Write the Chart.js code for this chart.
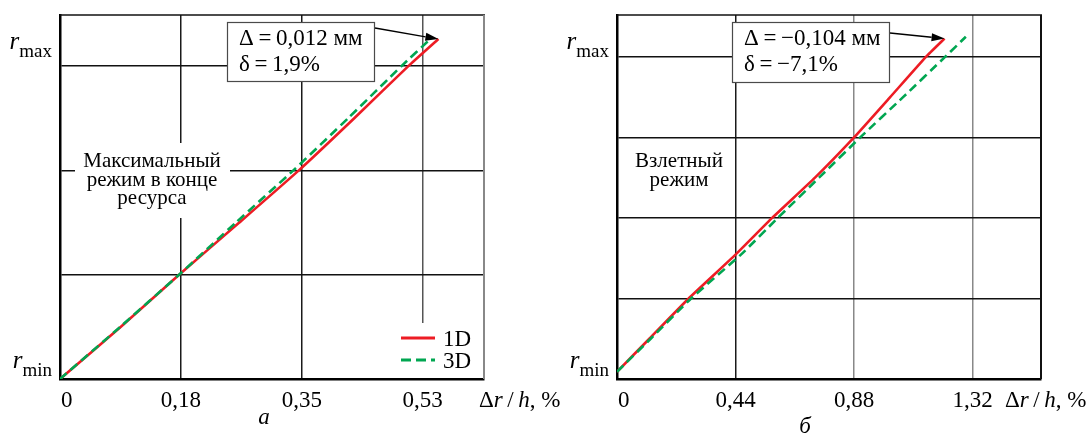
<!DOCTYPE html>
<html>
<head>
<meta charset="utf-8">
<script src="https://cdn.jsdelivr.net/npm/chart.js@4.4.1/dist/chart.umd.min.js"></script>
<style>
  body { margin: 0; background: #fff; width: 1088px; height: 437px; position: relative; overflow: hidden; }
  canvas { position: absolute; top: 0; }
</style>
</head>
<body>
<canvas id="chartA" width="570" height="437" style="left:0px"></canvas>
<canvas id="chartB" width="532" height="437" style="left:556px"></canvas>
<script>
// panel а - максимальный режим в конце ресурса
const redAx = [0, 0.089, 0.174, 0.262, 0.349, 0.43, 0.509, 0.553];
const redAy = [0, 0.5, 1, 1.5, 2, 2.5, 3, 3.26];
const greenAx = [0, 0.088, 0.174, 0.257, 0.341, 0.421, 0.499, 0.542];
const greenAy = [0, 0.5, 1, 1.5, 2, 2.5, 3, 3.265];
const xTicksA = [0, 0.1767, 0.3533, 0.53];
const xTickLabelsA = ['0', '0,18', '0,35', '0,53'];
const yGridA = [1, 2, 3];

// panel б - взлетный режим
const redBx = [0, 0.12, 0.266, 0.44, 0.576, 0.735, 0.88, 1.014, 1.147, 1.216];
const redBy = [0.09, 0.5, 1, 1.544, 2, 2.5, 3, 3.5, 4, 4.227];
const greenBx = [0, 0.125, 0.275, 0.46, 0.597, 0.75, 0.903, 1.062, 1.218, 1.295];
const greenBy = [0.09, 0.5, 1, 1.544, 2, 2.5, 3, 3.5, 4, 4.25];
const xTicksB = [0, 0.44, 0.88, 1.32];
const xTickLabelsB = ['0', '0,44', '0,88', '1,32'];
const yGridB = [1, 2, 3, 4];

const serif = '"Liberation Serif", "DejaVu Serif", serif';
const RED = '#ed1c24';
const GREEN = '#00a651';

function pts(xs, ys) {
  return xs.map((x, i) => ({ x: x, y: ys[i] }));
}

// draw a run of text pieces with mixed fonts
function drawParts(ctx, parts, x, y, align) {
  let w = 0;
  parts.forEach(p => { ctx.font = p.font; p.w = ctx.measureText(p.text).width; w += p.w; });
  let cx = align === 'right' ? x - w : (align === 'center' ? x - w / 2 : x);
  ctx.textAlign = 'left';
  parts.forEach(p => {
    ctx.font = p.font;
    ctx.fillText(p.text, cx, y + (p.dy || 0));
    cx += p.w;
  });
}

function arrow(ctx, x0, y0, x1, y1) {
  const ang = Math.atan2(y1 - y0, x1 - x0);
  const len = 13, half = 4;
  ctx.strokeStyle = '#000';
  ctx.lineWidth = 1.3;
  ctx.beginPath();
  ctx.moveTo(x0, y0);
  ctx.lineTo(x1 - len * Math.cos(ang), y1 - len * Math.sin(ang));
  ctx.stroke();
  ctx.fillStyle = '#000';
  ctx.beginPath();
  ctx.moveTo(x1, y1);
  ctx.lineTo(x1 - len * Math.cos(ang) + half * Math.sin(ang), y1 - len * Math.sin(ang) - half * Math.cos(ang));
  ctx.lineTo(x1 - len * Math.cos(ang) - half * Math.sin(ang), y1 - len * Math.sin(ang) + half * Math.cos(ang));
  ctx.closePath();
  ctx.fill();
}

function makePanel(p) {
  const deco = {
    id: 'deco',
    beforeDatasetsDraw(chart) {
      const ctx = chart.ctx, a = chart.chartArea;
      ctx.save();
      ctx.lineWidth = 1.5;
      ctx.strokeStyle = p.topColor;
      ctx.beginPath(); ctx.moveTo(a.left, a.top); ctx.lineTo(a.right + 1, a.top); ctx.stroke();
      ctx.lineWidth = 2;
      ctx.strokeStyle = p.rightColor;
      ctx.beginPath(); ctx.moveTo(a.right, a.top); ctx.lineTo(a.right, a.bottom); ctx.stroke();
      ctx.fillStyle = '#fff';
      p.masks.forEach(m => ctx.fillRect(m[0], m[1], m[2], m[3]));
      ctx.restore();
    },
    afterDraw(chart) {
      const ctx = chart.ctx, a = chart.chartArea;
      const xs = chart.scales.x, ys = chart.scales.y;
      ctx.save();
      ctx.fillStyle = '#000';
      ctx.textBaseline = 'alphabetic';

      // x tick labels
      ctx.font = '23px ' + serif;
      p.xTicks.forEach((v, i) => {
        const px = xs.getPixelForValue(v);
        ctx.textAlign = i === 0 ? 'left' : 'center';
        ctx.fillText(p.xLabels[i], i === 0 ? px + 1 : px, a.bottom + 28);
      });

      // axis title
      drawParts(ctx, [
        { text: 'Δ', font: '23px ' + serif },
        { text: 'r', font: 'italic 23px ' + serif },
        { text: '\u2009/\u2009', font: '23px ' + serif },
        { text: 'h', font: 'italic 23px ' + serif },
        { text: ', %', font: '23px ' + serif }
      ], p.titleX, a.bottom + 28, 'left');

      // r_max / r_min
      drawParts(ctx, [
        { text: 'r', font: 'italic 25px ' + serif },
        { text: 'max', font: '19px ' + serif, dy: 8 }
      ], a.left - 8, a.top + 34, 'right');
      drawParts(ctx, [
        { text: 'r', font: 'italic 25px ' + serif },
        { text: 'min', font: '19px ' + serif, dy: 8 }
      ], a.left - 8, a.bottom - 11, 'right');

      // panel letter
      ctx.font = 'italic 23px ' + serif;
      ctx.textAlign = 'center';
      ctx.fillText(p.letter, p.letterX, p.letterY);

      // regime label
      ctx.font = '21px ' + serif;
      p.label.forEach((t, i) => ctx.fillText(t, p.labelX, p.labelY + i * 18.7));

      // annotation box
      const b = p.box;
      ctx.fillStyle = '#fff';
      ctx.fillRect(b.x, b.y, b.w, b.h);
      ctx.strokeStyle = '#4a4a4a';
      ctx.lineWidth = 1.2;
      ctx.strokeRect(b.x + 0.5, b.y + 0.5, b.w, b.h);
      ctx.fillStyle = '#000';
      ctx.textAlign = 'left';
      ctx.font = '23px ' + serif;
      ctx.fillText(p.boxText[0], b.x + 12, b.y + 23);
      ctx.fillText(p.boxText[1], b.x + 12, b.y + 49);
      const tipX = xs.getPixelForValue(p.red[0].at(-1));
      const tipY = ys.getPixelForValue(p.red[1].at(-1));
      arrow(ctx, b.x + b.w + 1, p.arrowY, tipX, tipY);

      // legend
      if (p.legend) {
        const L = p.legend;
        ctx.lineWidth = 3;
        ctx.strokeStyle = RED;
        ctx.beginPath(); ctx.moveTo(L.x, L.y); ctx.lineTo(L.x + 34, L.y); ctx.stroke();
        ctx.strokeStyle = GREEN;
        ctx.setLineDash([10, 5]);
        ctx.beginPath(); ctx.moveTo(L.x, L.y + 22); ctx.lineTo(L.x + 34, L.y + 22); ctx.stroke();
        ctx.setLineDash([]);
        ctx.fillStyle = '#000';
        ctx.font = '23px ' + serif;
        ctx.fillText('1D', L.x + 42, L.y + 8);
        ctx.fillText('3D', L.x + 42, L.y + 30);
      }
      ctx.restore();
    }
  };

  return new Chart(document.getElementById(p.canvas), {
    type: 'line',
    data: {
      datasets: [
        {
          label: '1D',
          data: pts(p.red[0], p.red[1]),
          borderColor: RED,
          borderWidth: 2.6,
          pointRadius: 0,
          tension: 0.15,
          order: 1
        },
        {
          label: '3D',
          data: pts(p.green[0], p.green[1]),
          borderColor: GREEN,
          borderWidth: 2.6,
          borderDash: [9, 5],
          pointRadius: 0,
          tension: 0.15,
          order: 0
        }
      ]
    },
    options: {
      responsive: false,
      devicePixelRatio: 1,
      animation: false,
      layout: { padding: p.padding },
      plugins: { legend: { display: false }, tooltip: { enabled: false } },
      scales: {
        x: {
          type: 'linear',
          min: 0,
          max: p.xMax,
          afterBuildTicks: s => { s.ticks = p.xTicks.slice(1).map(v => ({ value: v })); },
          ticks: { display: false },
          grid: { drawTicks: false, color: c => p.xGridColors[c.index] || '#222', lineWidth: 1.5 },
          border: { display: true, color: '#000', width: 2.5 }
        },
        y: {
          type: 'linear',
          min: 0,
          max: p.yMax,
          afterBuildTicks: s => { s.ticks = p.yGrid.map(v => ({ value: v })); },
          ticks: { display: false },
          grid: { drawTicks: false, color: '#111', lineWidth: 1.5 },
          border: { display: true, color: '#000', width: 2.5 }
        }
      }
    },
    plugins: [deco]
  });
}

makePanel({
  canvas: 'chartA',
  red: [redAx, redAy],
  green: [greenAx, greenAy],
  xTicks: xTicksA,
  xLabels: xTickLabelsA,
  yGrid: yGridA,
  xMax: 0.6196,
  yMax: 3.49,
  padding: { left: 60, top: 15, right: 86, bottom: 58 },
  xGridColors: ['#1a1a1a', '#1a1a1a', '#555'],
  topColor: '#111',
  rightColor: '#888',
  masks: [[75, 143, 155, 75], [396, 323, 86, 55]],
  titleX: 479,
  letter: 'а', letterX: 264, letterY: 424,
  label: ['Максимальный', 'режим в конце', 'ресурса'], labelX: 152, labelY: 167,
  box: { x: 227, y: 22, w: 147, h: 59 },
  boxText: ['Δ\u2009=\u20090,012 мм', 'δ\u2009=\u20091,9%'],
  arrowY: 28,
  legend: { x: 401, y: 338 }
});

makePanel({
  canvas: 'chartB',
  red: [redBx, redBy],
  green: [greenBx, greenBy],
  xTicks: xTicksB,
  xLabels: xTickLabelsB,
  yGrid: yGridB,
  xMax: 1.574,
  yMax: 4.52,
  padding: { left: 61, top: 15, right: 47, bottom: 58 },
  xGridColors: ['#1a1a1a', '#888', '#888'],
  topColor: '#111',
  rightColor: '#111',
  masks: [],
  titleX: 449,
  letter: 'б', letterX: 249, letterY: 433,
  label: ['Взлетный', 'режим'], labelX: 123, labelY: 167,
  box: { x: 176, y: 22, w: 157, h: 60 },
  boxText: ['Δ\u2009=\u2009−0,104 мм', 'δ\u2009=\u2009−7,1%'],
  arrowY: 33,
  legend: null
});
</script>
</body>
</html>
